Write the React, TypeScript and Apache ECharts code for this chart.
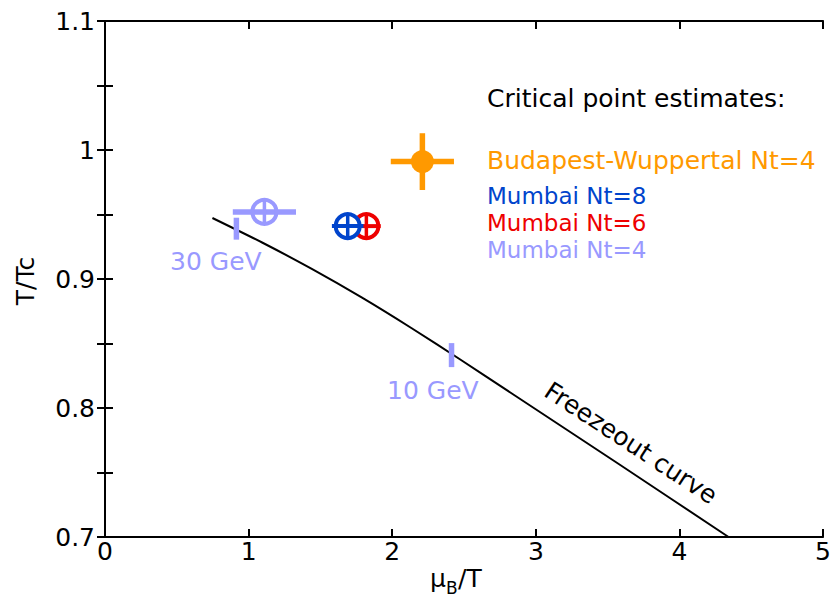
import React, { useEffect, useRef } from "react";
import * as echarts from "echarts";

// Freezeout curve (muB/T, T/Tc)
const curveMuB = [0.748, 1.094, 1.44, 1.787, 2.133, 2.479, 2.825, 3.58, 4.342];
const curveT = [0.9473, 0.9283, 0.9078, 0.8857, 0.862, 0.8372, 0.8118, 0.7564, 0.7];

// Critical point estimates (drawn in this order)
const pointNames = ["Mumbai Nt=4", "Mumbai Nt=6", "Mumbai Nt=8", "Budapest-Wuppertal Nt=4"];
const pointX = [1.11, 1.82, 1.69, 2.21];
const pointY = [0.952, 0.941, 0.941, 0.991];
const pointXErr = [0.22, 0.1, 0.11, 0.22];
const pointYErr = [0.01, 0.01, 0.01, 0.022];

// Collision energy markers on the freezeout curve
const energyLabels = ["30 GeV", "10 GeV"];
const energyX = [0.915, 2.413];
const energyY = [0.939, 0.841];
const energyErr = [0.0085, 0.0093];

const legendLines = ["Budapest-Wuppertal Nt=4", "Mumbai Nt=8", "Mumbai Nt=6", "Mumbai Nt=4"];

const COLORS: Record<string, string> = {
  "Mumbai Nt=4": "#9999ff",
  "Mumbai Nt=6": "#ee0000",
  "Mumbai Nt=8": "#0044cc",
  "Budapest-Wuppertal Nt=4": "#ff9900",
};

const FONT = '"DejaVu Sans", sans-serif';

export default function App() {
  const ref = useRef<HTMLDivElement>(null);
  useEffect(() => {
    if (!ref.current) return;
    const chart = echarts.init(ref.current, null, { renderer: "svg" });

    const axisCommon = {
      type: "value" as const,
      axisLine: { show: true, lineStyle: { color: "#000", width: 2 } },
      axisTick: { show: true, inside: true, length: 8, lineStyle: { color: "#000", width: 2 } },
      splitLine: { show: false },
    };

    const pointSeries = pointNames.map((name, i) => {
      const color = COLORS[name];
      const filled = name.startsWith("Budapest");
      const barW = name === "Mumbai Nt=4" || filled ? 5.5 : 4;
      return {
        type: "custom",
        name,
        xAxisIndex: 0,
        yAxisIndex: 0,
        z: 5 + i,
        data: [[pointX[i], pointY[i], pointXErr[i], pointYErr[i]]],
        encode: { x: 0, y: 1 },
        renderItem: (params: any, api: any) => {
          const x = api.value(0);
          const y = api.value(1);
          const xe = api.value(2);
          const ye = api.value(3);
          const c = api.coord([x, y]);
          const l = api.coord([x - xe, y]);
          const r = api.coord([x + xe, y]);
          const t = api.coord([x, y + ye]);
          const b = api.coord([x, y - ye]);
          const children: any[] = [];
          if (filled) {
            children.push({
              type: "line",
              shape: { x1: l[0], y1: l[1], x2: r[0], y2: r[1] },
              style: { stroke: color, lineWidth: barW },
            });
            children.push({
              type: "line",
              shape: { x1: t[0], y1: t[1], x2: b[0], y2: b[1] },
              style: { stroke: color, lineWidth: barW },
            });
            children.push({
              type: "circle",
              shape: { cx: c[0], cy: c[1], r: 11.5 },
              style: { fill: color, stroke: "none" },
            });
          } else {
            children.push({
              type: "circle",
              shape: { cx: c[0], cy: c[1], r: 12 },
              style: { fill: "#fff", stroke: "none" },
            });
            children.push({
              type: "line",
              shape: { x1: l[0], y1: l[1], x2: r[0], y2: r[1] },
              style: { stroke: color, lineWidth: barW },
            });
            children.push({
              type: "line",
              shape: { x1: t[0], y1: t[1], x2: b[0], y2: b[1] },
              style: { stroke: color, lineWidth: 3.5 },
            });
            children.push({
              type: "circle",
              shape: { cx: c[0], cy: c[1], r: 12 },
              style: { fill: "none", stroke: color, lineWidth: 4 },
            });
          }
          return { type: "group", children };
        },
      };
    });

    const energySeries = {
      type: "custom",
      name: "energies",
      z: 4,
      data: energyX.map((x, i) => [x, energyY[i], energyErr[i]]),
      encode: { x: 0, y: 1 },
      renderItem: (params: any, api: any) => {
        const x = api.value(0);
        const y = api.value(1);
        const e = api.value(2);
        const t = api.coord([x, y + e]);
        const b = api.coord([x, y - e]);
        return {
          type: "line",
          shape: { x1: t[0], y1: t[1], x2: b[0], y2: b[1] },
          style: { stroke: "#9999ff", lineWidth: 5.5 },
        };
      },
    };

    const txt = (text: string, x: number, y: number, fill: string, extra: any = {}) => ({
      type: "text",
      x,
      y,
      z: 20,
      rotation: extra.rotation || 0,
      style: {
        text,
        fill,
        fontSize: extra.fontSize || 25,
        fontFamily: FONT,
        lineHeight: extra.lineHeight,
        align: extra.align || "left",
        verticalAlign: "middle",
      },
    });

    const legendY = [160, 196, 223, 250];
    const graphic: any[] = [
      txt("Critical point estimates:", 487, 98, "#000"),
      ...legendLines.map((n, i) =>
        txt(n, 487, legendY[i], COLORS[n], i === 0 ? {} : { fontSize: 23, lineHeight: 23 })
      ),
      txt(energyLabels[0], 170, 261, "#9999ff"),
      txt(energyLabels[1], 387, 390, "#9999ff"),
      txt("Freezeout curve", 631, 443, "#000", { align: "center", rotation: -0.58 }),
      txt("T/Tc", 25, 281, "#000", { align: "center", rotation: Math.PI / 2 }),
      txt("μ", 430, 578, "#000"),
      txt("B", 446, 588, "#000", { fontSize: 17 }),
      txt("/T", 458, 578, "#000"),
    ];

    chart.setOption({
      animation: false,
      backgroundColor: "#fff",
      grid: { left: 105, right: 7, top: 21, bottom: 61, containLabel: false },
      xAxis: [
        {
          ...axisCommon,
          position: "bottom",
          min: 0,
          max: 5,
          interval: 1,
          axisLabel: {
            show: true,
            color: "#000",
            fontSize: 25,
            fontFamily: FONT,
            margin: 2,
            showMinLabel: true,
            showMaxLabel: true,
          },
        },
        {
          ...axisCommon,
          position: "top",
          min: 0,
          max: 5,
          interval: 1,
          axisLabel: { show: false },
        },
      ],
      yAxis: [
        {
          ...axisCommon,
          position: "left",
          min: 0.7,
          max: 1.1,
          interval: 0.05,
          axisLabel: {
            show: true,
            color: "#000",
            fontSize: 25,
            fontFamily: FONT,
            margin: 10,
            showMinLabel: true,
            showMaxLabel: true,
            formatter: (v: number) => {
              const r = Math.round(v * 100);
              if (r % 10 !== 0) return "";
              return String(Math.round(v * 10) / 10);
            },
          },
        },
        {
          ...axisCommon,
          position: "right",
          min: 0.7,
          max: 1.1,
          interval: 0.05,
          axisLabel: { show: false },
        },
      ],
      series: [
        {
          type: "line",
          name: "Freezeout curve",
          data: curveMuB.map((x, i) => [x, curveT[i]]),
          smooth: 0.2,
          showSymbol: false,
          symbol: "none",
          lineStyle: { color: "#000", width: 2 },
          z: 3,
        },
        energySeries,
        ...pointSeries,
      ],
      graphic,
    });

    return () => chart.dispose();
  }, []);

  return (
    <div
      ref={ref}
      style={{ position: "absolute", left: 0, top: 0, width: 834, height: 598, background: "#fff" }}
    />
  );
}
